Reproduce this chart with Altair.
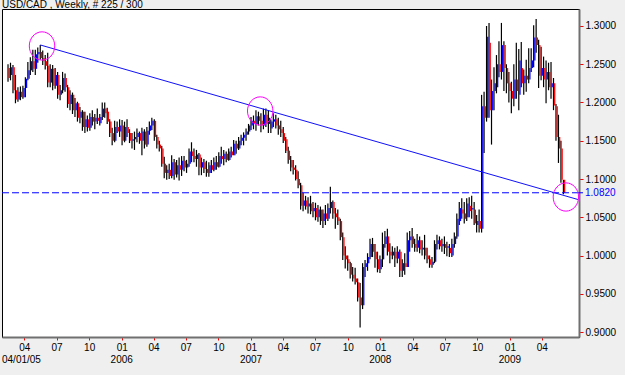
import altair as alt
import pandas as pd

# ---------------- data ----------------
first_week = "2005-02-14"          # first weekly bar shown
n_bars = 225

open_ = [
 1.245,1.236,1.246,1.216,1.204,1.214,1.207,1.219,1.231,1.242,
 1.254,1.244,1.263,1.266,1.258,1.254,1.248,1.226,1.244,1.222,
 1.236,1.210,1.216,1.232,1.220,1.198,1.210,1.190,1.199,1.180,
 1.188,1.168,1.178,1.167,1.181,1.175,1.180,1.173,1.181,1.192,
 1.188,1.175,1.160,1.150,1.168,1.162,1.170,1.150,1.168,1.160,
 1.150,1.152,1.155,1.160,1.150,1.162,1.145,1.163,1.170,1.176,
 1.155,1.145,1.140,1.120,1.108,1.112,1.104,1.122,1.106,1.118,
 1.112,1.124,1.115,1.120,1.136,1.130,1.126,1.132,1.115,1.122,
 1.113,1.108,1.118,1.112,1.122,1.116,1.130,1.126,1.133,1.125,
 1.136,1.131,1.146,1.140,1.150,1.154,1.158,1.162,1.170,1.176,
 1.172,1.182,1.176,1.170,1.184,1.172,1.166,1.175,1.178,1.170,
 1.165,1.160,1.152,1.137,1.125,1.115,1.112,1.100,1.092,1.065,
 1.072,1.064,1.068,1.058,1.062,1.050,1.060,1.045,1.055,1.048,
 1.062,1.070,1.055,1.050,1.045,1.024,1.000,0.995,0.990,0.975,
 0.970,0.965,0.945,0.935,0.985,0.990,0.998,1.015,1.005,0.995,
 0.982,0.995,1.015,1.025,1.005,1.000,1.005,0.996,1.005,0.980,
 0.990,0.985,1.020,1.025,1.015,1.010,1.020,1.008,1.010,1.000,
 0.995,0.988,0.992,1.015,1.020,1.012,1.015,1.010,1.010,1.000,
 1.015,1.025,1.045,1.060,1.055,1.050,1.065,1.060,1.060,1.040,
 1.045,1.035,1.195,1.180,1.278,1.190,1.215,1.220,1.250,1.240,
 1.275,1.245,1.225,1.215,1.205,1.230,1.210,1.245,1.225,1.235,
 1.230,1.245,1.255,1.285,1.275,1.235,1.245,1.230,1.240,1.220,
 1.225,1.195,1.155,1.140,1.099]

high = [
 1.250,1.252,1.249,1.236,1.220,1.221,1.222,1.233,1.253,1.259,
 1.269,1.269,1.272,1.275,1.268,1.262,1.265,1.250,1.249,1.245,
 1.240,1.223,1.240,1.238,1.223,1.216,1.213,1.206,1.201,1.194,
 1.190,1.188,1.183,1.186,1.190,1.185,1.192,1.185,1.200,1.200,
 1.193,1.178,1.167,1.176,1.175,1.178,1.177,1.175,1.178,1.165,
 1.160,1.162,1.166,1.162,1.167,1.165,1.168,1.175,1.180,1.178,
 1.158,1.150,1.143,1.129,1.118,1.120,1.131,1.126,1.125,1.128,
 1.130,1.130,1.125,1.140,1.148,1.140,1.138,1.134,1.128,1.126,
 1.124,1.122,1.125,1.128,1.130,1.135,1.142,1.138,1.136,1.140,
 1.142,1.151,1.150,1.155,1.158,1.161,1.166,1.172,1.181,1.183,
 1.190,1.188,1.186,1.192,1.192,1.190,1.178,1.186,1.184,1.180,
 1.176,1.168,1.155,1.142,1.130,1.125,1.118,1.110,1.095,1.082,
 1.078,1.076,1.078,1.070,1.069,1.066,1.064,1.060,1.066,1.068,
 1.090,1.072,1.062,1.060,1.048,1.030,1.012,1.000,0.992,0.985,
 0.984,0.970,0.964,0.990,0.994,1.003,1.022,1.023,1.015,1.005,
 1.000,1.030,1.032,1.035,1.016,1.012,1.010,1.012,1.008,0.995,
 1.003,1.030,1.032,1.036,1.022,1.028,1.025,1.020,1.027,1.010,
 1.000,0.998,1.020,1.027,1.025,1.022,1.025,1.018,1.015,1.022,
 1.030,1.055,1.070,1.075,1.070,1.075,1.076,1.078,1.070,1.053,
 1.060,1.210,1.214,1.300,1.304,1.230,1.246,1.262,1.280,1.304,
 1.280,1.250,1.240,1.227,1.250,1.278,1.270,1.279,1.243,1.256,
 1.271,1.271,1.301,1.309,1.282,1.273,1.260,1.255,1.252,1.253,
 1.232,1.198,1.184,1.150,1.099]

low = [
 1.227,1.229,1.212,1.199,1.201,1.203,1.205,1.207,1.229,1.236,
 1.240,1.236,1.252,1.256,1.249,1.243,1.220,1.220,1.216,1.218,
 1.205,1.203,1.212,1.214,1.193,1.190,1.185,1.181,1.175,1.173,
 1.163,1.160,1.162,1.163,1.170,1.165,1.172,1.170,1.177,1.180,
 1.172,1.155,1.144,1.148,1.160,1.155,1.144,1.148,1.155,1.147,
 1.140,1.138,1.148,1.146,1.131,1.140,1.142,1.158,1.164,1.150,
 1.140,1.136,1.116,1.101,1.099,1.100,1.101,1.099,1.102,1.098,
 1.104,1.110,1.108,1.116,1.122,1.122,1.116,1.105,1.105,1.108,
 1.103,1.103,1.108,1.110,1.112,1.115,1.120,1.118,1.122,1.124,
 1.128,1.131,1.133,1.138,1.144,1.144,1.150,1.158,1.164,1.165,
 1.163,1.170,1.161,1.165,1.168,1.160,1.160,1.168,1.166,1.158,
 1.155,1.147,1.134,1.120,1.110,1.106,1.098,1.088,1.060,1.058,
 1.060,1.055,1.054,1.050,1.046,1.044,1.040,1.036,1.040,1.045,
 1.055,1.048,1.035,1.040,1.020,0.994,0.983,0.980,0.970,0.966,
 0.962,0.940,0.906,0.930,0.972,0.980,0.995,0.998,0.984,0.978,
 0.977,0.985,1.010,1.000,0.990,0.995,0.985,0.990,0.972,0.972,
 0.975,0.985,1.005,1.010,1.005,1.005,1.003,1.000,0.995,0.990,
 0.984,0.984,0.990,1.008,1.008,1.005,1.002,0.999,0.998,0.998,
 1.010,1.022,1.040,1.048,1.042,1.045,1.050,1.048,1.040,1.030,
 1.030,1.030,1.134,1.175,1.180,1.145,1.190,1.212,1.233,1.230,
 1.215,1.212,1.200,1.186,1.195,1.205,1.190,1.220,1.210,1.214,
 1.225,1.240,1.246,1.265,1.219,1.229,1.220,1.199,1.216,1.205,
 1.190,1.150,1.121,1.095,1.080]

close = [
 1.232,1.246,1.216,1.204,1.214,1.207,1.219,1.231,1.242,1.254,
 1.244,1.263,1.266,1.258,1.254,1.248,1.226,1.244,1.222,1.236,
 1.210,1.216,1.232,1.220,1.198,1.210,1.190,1.199,1.180,1.188,
 1.168,1.178,1.167,1.181,1.175,1.180,1.176,1.181,1.192,1.186,
 1.175,1.160,1.150,1.168,1.162,1.170,1.150,1.168,1.160,1.150,
 1.152,1.155,1.160,1.150,1.162,1.145,1.163,1.170,1.176,1.155,
 1.145,1.140,1.120,1.108,1.112,1.104,1.122,1.106,1.118,1.112,
 1.124,1.115,1.120,1.136,1.130,1.126,1.132,1.115,1.122,1.113,
 1.108,1.118,1.112,1.122,1.116,1.130,1.126,1.133,1.125,1.136,
 1.131,1.146,1.140,1.150,1.154,1.158,1.162,1.170,1.176,1.172,
 1.182,1.176,1.170,1.184,1.172,1.180,1.175,1.178,1.170,1.165,
 1.160,1.150,1.137,1.125,1.115,1.112,1.100,1.092,1.065,1.072,
 1.064,1.068,1.058,1.062,1.050,1.060,1.045,1.055,1.048,1.062,
 1.070,1.055,1.050,1.045,1.024,1.000,0.995,0.990,0.975,0.970,
 0.965,0.945,0.935,0.985,0.990,0.998,1.015,1.005,0.995,0.982,
 0.995,1.015,1.025,1.005,1.000,1.005,0.996,1.005,0.980,0.990,
 0.985,1.020,1.025,1.015,1.010,1.020,1.008,1.010,1.000,0.995,
 0.988,0.992,1.015,1.020,1.012,1.015,1.010,1.012,1.003,1.015,
 1.025,1.048,1.062,1.055,1.048,1.068,1.058,1.062,1.042,1.045,
 1.035,1.195,1.180,1.286,1.190,1.215,1.225,1.250,1.240,1.275,
 1.245,1.225,1.215,1.205,1.230,1.215,1.255,1.225,1.235,1.230,
 1.245,1.255,1.285,1.275,1.235,1.245,1.230,1.240,1.220,1.225,
 1.196,1.155,1.140,1.099,1.082]

# axis tick labels
tick_dates = ["2005-04-01","2005-07-01","2005-10-01",
              "2006-01-01","2006-04-01","2006-07-01","2006-10-01",
              "2007-01-01","2007-04-01","2007-07-01","2007-10-01",
              "2008-01-01","2008-04-01","2008-07-01","2008-10-01",
              "2009-01-01","2009-04-01"]
year_dates = ["2006-01-01","2007-01-01","2008-01-01","2009-01-01"]
year_labels = ["2006","2007","2008","2009"]
start_label = "04/01/05"
y_ticks = [0.90,0.95,1.00,1.05,1.10,1.15,1.20,1.25,1.30]

# annotations
last_price = [1.0820]
trend_dates = ["2005-05-16","2009-07-12"]
trend_prices = [1.2752,1.0732]
circle_dates = ["2005-05-21","2007-01-27","2009-06-08"]
circle_prices = [1.2739,1.1889,1.0765]
title_text = "USD/CAD , Weekly, # 225 / 300"

x_domain = ["2005-01-28","2009-07-15"]
y_domain = [0.8935,1.3222]

# ---------------- chart ----------------
W, H = 577, 328
FONT = "Liberation Sans"

def dt(s):
    y, m, d = (int(v) for v in s.split("-"))
    return alt.DateTime(year=y, month=m, date=d, utc=True)

dates = pd.date_range(first_week, periods=n_bars, freq="7D").strftime("%Y-%m-%d")
df = pd.DataFrame({"date": dates, "open": open_, "high": high, "low": low, "close": close})
df["dir"] = ["up" if c >= o else "down" for o, c in zip(open_, close)]

xs = alt.Scale(type="utc", domain=[dt(x_domain[0]), dt(x_domain[1])])
ys = alt.Scale(domain=y_domain, nice=False, zero=False)
x_axis = alt.Axis(values=[dt(d) for d in tick_dates],
                  labelExpr="utcFormat(datum.value, '%m')",
                  title=None, grid=False, tickColor="#FF0000", tickSize=3,
                  domainColor="#707070", domainWidth=2, labelColor="black",
                  labelFont=FONT, labelFontSize=10, labelPadding=2,
                  labelOverlap=False, labelFlush=False)
y_axis = alt.Axis(orient="right", values=y_ticks, format=".4f", title=None,
                  grid=False, tickColor="#FF0000", tickSize=4,
                  domainColor="#707070", domainWidth=2, labelColor="black",
                  labelFont=FONT, labelFontSize=10, labelPadding=2,
                  labelOverlap=False, labelFlush=False)

def X(f):
    return alt.X(f"{f}:T", scale=xs, axis=x_axis)

def Y(f):
    return alt.Y(f"{f}:Q", scale=ys, axis=y_axis)

base = alt.Chart(df)
hl = base.mark_rule(color="black", strokeWidth=1.2).encode(
    x=X("date"), y=Y("high"), y2="low")
body = base.mark_rule(strokeWidth=1.3, xOffset=1.2).encode(
    x=X("date"), y=Y("open"), y2="close",
    color=alt.Color("dir:N", scale=alt.Scale(domain=["up","down"], range=["#0000FF","#FF0000"]), legend=None))

lp = pd.DataFrame({"p": last_price, "t": [f"{v:.4f}" for v in last_price]})
dash = alt.Chart(lp).mark_rule(color="#0000FF", strokeDash=[7,3], strokeWidth=1).encode(y=Y("p"))
lp_tick = alt.Chart(lp).mark_rule(color="#0000FF", strokeWidth=1).encode(
    x=alt.value(W), x2=alt.value(W + 4), y=Y("p"))
lp_label = alt.Chart(lp).mark_text(align="left", baseline="middle", color="#0000FF",
                                   font=FONT, fontSize=10).encode(
    x=alt.value(W + 6), y=Y("p"), text="t:N")

trend = alt.Chart(pd.DataFrame({"date": trend_dates, "price": trend_prices})).mark_line(
    color="#1010FF", strokeWidth=1).encode(x=X("date"), y=Y("price"))

ellipse = "M-0.9,0A0.9,1,0,1,1,0.9,0A0.9,1,0,1,1,-0.9,0Z"
circles = alt.Chart(pd.DataFrame({"date": circle_dates, "price": circle_prices})).mark_point(
    shape=ellipse, size=800, filled=False, color="#FF00FF", strokeWidth=1, opacity=1).encode(
    x=X("date"), y=Y("price"))

years = alt.Chart(pd.DataFrame({"date": year_dates, "label": year_labels})).mark_text(
    baseline="middle", align="center", font=FONT, fontSize=10, color="black").encode(
    x=X("date"), y=alt.value(H + 23), text="label:N")
start = alt.Chart(pd.DataFrame({"label": [start_label]})).mark_text(
    baseline="middle", align="left", font=FONT, fontSize=10, color="black").encode(
    x=alt.value(0), y=alt.value(H + 23), text="label:N")
title = alt.Chart(pd.DataFrame({"label": [title_text]})).mark_text(
    baseline="alphabetic", align="left", font=FONT, fontSize=10, color="black").encode(
    x=alt.value(0), y=alt.value(-1), text="label:N")

chart = alt.layer(hl, body, trend, dash, lp_tick, lp_label, circles, years, start, title).properties(
    width=W, height=H,
    padding={"left": 2, "top": 9, "right": 46, "bottom": 38},
    autosize=alt.AutoSizeParams(type="none"),
).configure(background="#EFEFEF").configure_view(fill="white", stroke="black", strokeWidth=1)

chart.save("out.html", embed_options={"renderer": "svg", "actions": False})
